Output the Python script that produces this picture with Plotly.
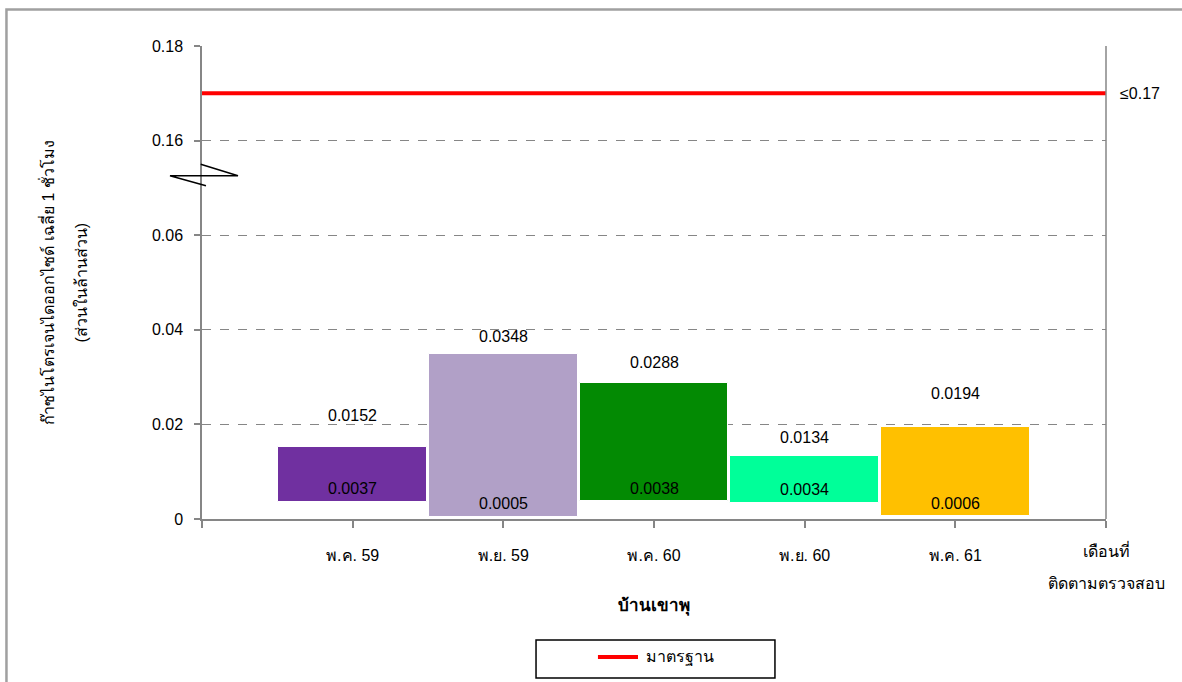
import plotly.graph_objects as go

# ---- data ----
months = ["พ.ค. 59", "พ.ย. 59", "พ.ค. 60", "พ.ย. 60", "พ.ค. 61"]
high_vals = [0.0152, 0.0348, 0.0288, 0.0134, 0.0194]
low_vals = [0.0037, 0.0005, 0.0038, 0.0034, 0.0006]
bar_colors = ["#7030A0", "#B1A0C7", "#038A03", "#00FF99", "#FFC000"]
standard_value = 0.17
standard_name = "มาตรฐาน"
ytick_values = [0, 0.02, 0.04, 0.06, 0.16, 0.18]
ytick_labels = ["0", "0.02", "0.04", "0.06", "0.16", "0.18"]

BREAK_LOW, BREAK_HIGH = 0.06, 0.16
GAP = BREAK_HIGH - BREAK_LOW - 0.02  # broken axis removes 0.08


def pos(v):
    """Map a real value onto the broken axis."""
    return v if v <= BREAK_LOW + 0.01 else v - GAP


FONT = "Liberation Sans, Arial, Tahoma, DejaVu Sans, sans-serif"
xs = list(range(1, len(months) + 1))

fig = go.Figure()

fig.add_trace(go.Bar(
    x=xs,
    y=[h - l for h, l in zip(high_vals, low_vals)],
    base=low_vals,
    width=0.985,
    marker=dict(color=bar_colors, line=dict(color="white", width=1)),
    showlegend=False,
    hoverinfo="skip",
))

fig.add_trace(go.Scatter(
    x=[0, len(months) + 1],
    y=[pos(standard_value)] * 2,
    mode="lines",
    line=dict(color="#FF0000", width=4),
    name=standard_name,
    showlegend=False,
    cliponaxis=False,
    hoverinfo="skip",
))

# value labels
top_shift = [32, 18, 20, 18, 34]
for x, h, l, s in zip(xs, high_vals, low_vals, top_shift):
    fig.add_annotation(x=x, y=h, text=f"{h:.4f}", showarrow=False,
                       yshift=s, font=dict(size=16, color="black"))
    fig.add_annotation(x=x, y=l, text=f"{l:.4f}", showarrow=False,
                       yshift=13, font=dict(size=16, color="black"))

# standard label
fig.add_annotation(x=len(months) + 1, y=pos(standard_value), text="≤0.17",
                   showarrow=False, xanchor="left", xshift=12,
                   font=dict(size=16, color="black"))

# right-hand x label
fig.add_annotation(x=len(months) + 1, y=0, yref="y", text="เดือนที่",
                   showarrow=False, yanchor="middle", yshift=-31,
                   font=dict(size=16, color="black"))
fig.add_annotation(x=len(months) + 1, y=0, yref="y", text="ติดตามตรวจสอบ",
                   showarrow=False, yanchor="middle", yshift=-64,
                   font=dict(size=16, color="black"))

# x title
fig.add_annotation(x=0.5, xref="paper", y=0, yref="y", text="<b>บ้านเขาพุ</b>",
                   showarrow=False, yanchor="middle", yshift=-87,
                   font=dict(size=17, color="black"))

# y title (two lines)
fig.add_annotation(x=0, xref="paper", y=0.5, yref="paper",
                   text="ก๊าซไนโตรเจนไดออกไซด์ เฉลี่ย 1 ชั่วโมง",
                   textangle=-90, showarrow=False, xanchor="center",
                   xshift=-156, font=dict(size=16, color="black"))
fig.add_annotation(x=0, xref="paper", y=0.5, yref="paper",
                   text="(ส่วนในล้านส่วน)",
                   textangle=-90, showarrow=False, xanchor="center",
                   xshift=-122, font=dict(size=16, color="black"))

# legend (drawn box)
fig.add_annotation(x=0.4889, xref="paper", y=-0.2918, yref="paper",
                   text=standard_name, showarrow=False, xanchor="left",
                   yanchor="middle", font=dict(size=16, color="black"))

shapes = []
# right border of plot area
shapes.append(dict(type="line", xref="paper", yref="paper", x0=1, x1=1, y0=0, y1=1,
                   line=dict(color="#868686", width=1.5)))
# axis break marker
shapes.append(dict(type="path", xref="paper", yref="paper",
                   path="M 0.0044 0.7047 L -0.0354 0.7258 L 0.0398 0.7258 L -0.0014 0.7499",
                   line=dict(color="black", width=1.5)))
# outer chart border
shapes.append(dict(type="path", xref="paper", yref="paper",
                   path="M -0.2163 -0.40 L -0.2163 1.0772 L 1.10 1.0772",
                   line=dict(color="#A0A0A0", width=2.5)))
# legend box and sample line
shapes.append(dict(type="rect", xref="paper", yref="paper",
                   x0=0.3695, x1=0.6338, y0=-0.3362, y1=-0.2558,
                   line=dict(color="black", width=1.5), fillcolor="white", layer="below"))
shapes.append(dict(type="line", xref="paper", yref="paper",
                   x0=0.438, x1=0.4823, y0=-0.2918, y1=-0.2918,
                   line=dict(color="#FF0000", width=4)))

fig.update_layout(
    width=1182, height=682,
    margin=dict(l=202, r=76, t=46, b=163, autoexpand=False),
    paper_bgcolor="white", plot_bgcolor="white",
    font=dict(family=FONT, size=16, color="black"),
    bargap=0,
    showlegend=False,
    shapes=shapes,
    xaxis=dict(
        range=[0, len(months) + 1],
        tickvals=list(range(0, len(months) + 2)),
        ticktext=[""] + months + [""],
        ticks="outside", ticklen=7, tickcolor="#868686", tickwidth=1.5,
        showline=True, linecolor="#868686", linewidth=1.5,
        showgrid=False, zeroline=False,
        ticklabelstandoff=14,
        tickfont=dict(size=16, color="black"),
    ),
    yaxis=dict(
        range=[0, pos(0.18)],
        tickvals=[pos(v) for v in ytick_values],
        ticktext=ytick_labels,
        ticks="outside", ticklen=6, tickcolor="#868686", tickwidth=1.5,
        showline=True, linecolor="#868686", linewidth=1.5,
        showgrid=True, gridcolor="#868686", gridwidth=1, griddash="dash",
        zeroline=False,
        tickfont=dict(size=16, color="black"),
        ticklabelstandoff=8,
    ),
)

fig.write_html("out.html", config={"displayModeBar": False},
               post_script="document.body.style.margin='0';")
